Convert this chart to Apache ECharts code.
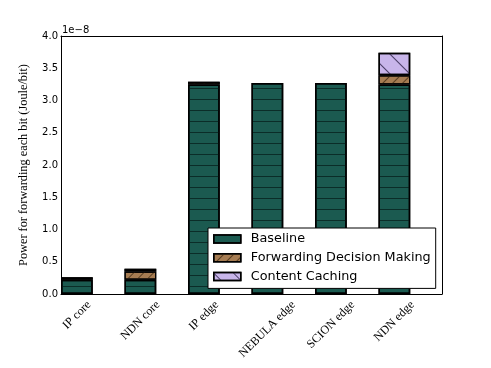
<!DOCTYPE html>
<html>
<head>
<meta charset="utf-8">
<script src="https://cdn.jsdelivr.net/npm/echarts@6/dist/echarts.min.js"></script>
<style>
  html, body { margin: 0; padding: 0; background: #fff; }
  #chart { width: 491px; height: 368px; }
</style>
</head>
<body>
<div id="chart"></div>
<script>
// values in units of 1e-8 Joule/bit
var categories = ['IP core', 'NDN core', 'IP edge', 'NEBULA edge', 'SCION edge', 'NDN edge'];
var baseline   = [0.22, 0.22, 3.25, 3.27, 3.27, 3.25];
var forwarding = [0.04, 0.13, 0.04, 0, 0, 0.14];
var caching    = [0, 0.04, 0, 0, 0, 0.35];

var chart = echarts.init(document.getElementById('chart'), null, {renderer: 'canvas'});

// each bar takes the left half of its unit (matplotlib bar width 0.5, align edge),
// so the axis gets two slots per category, the second one empty
var slots = [];
categories.forEach(function (c) { slots.push(c, ''); });
function spread(arr) {
  var out = [];
  arr.forEach(function (v) { out.push(v ? v : '-', '-'); });
  return out;
}

// matplotlib centres the rotated label box under the tick; emulate with rich padding
var ctx = document.createElement('canvas').getContext('2d');
ctx.font = '12px "Liberation Serif"';
var rich = {};
categories.forEach(function (c, i) {
  var p = (ctx.measureText(c).width + 14) / 2;
  rich['l' + i] = {fontFamily: 'Liberation Serif', fontSize: 12, color: '#000', padding: [p, p, 0, 0]};
});

function hatch(rot, gap, col) {
  return {symbol: 'rect', symbolSize: 1, dashArrayX: [1, 0], dashArrayY: [1, gap], rotation: rot, color: col};
}

var tickStyle = {inside: true, length: 4, interval: 1, alignWithLabel: true, lineStyle: {color: '#000'}};

var option = {
  animation: false,
  grid: {left: 61, right: 49, top: 36, bottom: 74},
  xAxis: [{
    type: 'category', data: slots, position: 'bottom',
    axisLine: {onZero: false, lineStyle: {color: '#000', width: 1}},
    axisTick: tickStyle,
    axisLabel: {
      interval: 1, rotate: 45, align: 'center', verticalAlign: 'middle', margin: 4,
      formatter: function (v) {
        var i = categories.indexOf(v);
        return '{l' + i + '|' + v + '}';
      },
      rich: rich
    }
  }, {
    type: 'category', data: slots, position: 'top',
    axisLine: {onZero: false, lineStyle: {color: '#000', width: 1}},
    axisTick: tickStyle,
    axisLabel: {show: false}
  }],
  yAxis: [{
    type: 'value', min: 0, max: 4, interval: 0.5, position: 'left',
    name: 'Power for forwarding each bit (Joule/bit)',
    nameLocation: 'middle', nameGap: 31,
    nameTextStyle: {fontFamily: 'Liberation Serif', fontSize: 12.3, color: '#000'},
    axisLine: {show: true, onZero: false, lineStyle: {color: '#000', width: 1}},
    splitLine: {show: false},
    axisTick: {inside: true, length: 4, lineStyle: {color: '#000'}},
    axisLabel: {
      margin: 3, fontFamily: 'DejaVu Sans', fontSize: 10, color: '#000',
      formatter: function (v) { return v.toFixed(1); }
    }
  }, {
    type: 'value', min: 0, max: 4, interval: 0.5, position: 'right',
    axisLine: {show: true, onZero: false, lineStyle: {color: '#000', width: 1}},
    splitLine: {show: false},
    axisTick: {inside: true, length: 4, lineStyle: {color: '#000'}},
    axisLabel: {show: false}
  }],
  legend: {
    orient: 'vertical', left: 208, top: 228,
    backgroundColor: '#fff', borderColor: '#000', borderWidth: 1, borderRadius: 0,
    padding: [4, 5, 5, 5], itemGap: 4.7, itemWidth: 27, itemHeight: 8, icon: 'rect',
    textStyle: {fontFamily: 'DejaVu Sans', fontSize: 12.8, color: '#000', lineHeight: 14, padding: [0, 0, 0, 5]},
    itemStyle: {borderColor: '#000', borderWidth: 1.5},
    data: ['Baseline', 'Forwarding Decision Making', 'Content Caching']
  },
  graphic: [{
    type: 'text', left: 62, top: 25,
    style: {text: '1e\u22128', font: '10px "DejaVu Sans"', fill: '#000'}
  }],
  series: [{
    name: 'Baseline', type: 'bar', stack: 'p', barWidth: '100%',
    itemStyle: {color: '#1b5a50', borderColor: '#000', borderWidth: 1.5,
      decal: hatch(0, 9.4, '#0b2d28')},
    data: spread(baseline)
  }, {
    name: 'Forwarding Decision Making', type: 'bar', stack: 'p', barWidth: '100%',
    itemStyle: {color: '#a67c52', borderColor: '#000', borderWidth: 1.2,
      decal: hatch(-Math.PI / 4, 6, '#5a3f22')},
    data: spread(forwarding)
  }, {
    name: 'Content Caching', type: 'bar', stack: 'p', barWidth: '100%',
    itemStyle: {color: '#c8b5ea', borderColor: '#000', borderWidth: 1.5,
      decal: hatch(Math.PI / 4, 13, '#4a3d66')},
    data: spread(caching)
  }]
};
chart.setOption(option);
</script>
</body>
</html>
